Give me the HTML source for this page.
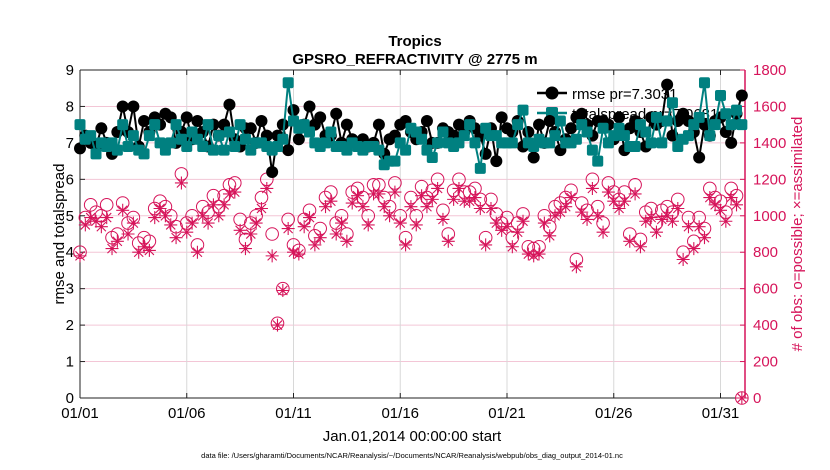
<!DOCTYPE html>
<html><head><meta charset="utf-8"><style>
body{margin:0;background:#fff}
svg{display:block;font-family:"Liberation Sans",sans-serif}
</style></head><body>
<svg id="c" width="830" height="470">
<g id="grid"></g>
<g id="marks"></g>
<g id="axes"></g>
<text x="415" y="46" text-anchor="middle" font-size="15" font-weight="bold">Tropics</text>
<text x="415" y="64" text-anchor="middle" font-size="15" font-weight="bold">GPSRO_REFRACTIVITY @ 2775 m</text>
<text x="412" y="441" text-anchor="middle" font-size="15">Jan.01,2014 00:00:00 start</text>
<text transform="translate(64,234) rotate(-90)" text-anchor="middle" font-size="15">rmse and totalspread</text>
<text transform="translate(802,234) rotate(-90)" text-anchor="middle" font-size="15" fill="#d6145a"># of obs: o=possible; ×=assimilated</text>
<text x="412" y="458" text-anchor="middle" font-size="7.5">data file: /Users/gharamti/Documents/NCAR/Reanalysis/~/Documents/NCAR/Reanalysis/webpub/obs_diag_output_2014-01.nc</text>
<g id="legend"></g>
</svg>
<script>
const xTicks=["01/01","01/06","01/11","01/16","01/21","01/26","01/31"];
const yTicks=[0,1,2,3,4,5,6,7,8,9];
const y2Ticks=[0,200,400,600,800,1000,1200,1400,1600,1800];
const rmse=[6.85,7.2,7.0,6.9, 7.4,7.0,6.7,7.3, 8.0,7.3,8.0,6.9, 7.6,7.3,7.7,7.5, 7.8,7.7,7.0,7.3, 7.7,7.1,7.6,7.3, 6.9,7.5,7.2,7.5, 8.05,7.1,6.9,7.4, 7.4,7.0,7.6,7.2, 6.2,7.2,7.5,6.8, 7.9,7.1,7.5,8.0, 7.5,7.7,7.2,7.2, 7.8,7.0,7.5,7.1, 7.0,7.1,6.9,7.0, 7.5,6.7,7.1,7.2, 7.5,7.6,7.3,7.1, 7.3,7.6,7.0,7.0, 7.4,7.3,7.2,7.5, 7.3,7.6,7.4,7.2, 6.7,7.4,6.5,7.7, 7.4,7.3,7.6,6.9, 7.3,6.6,7.5,7.0, 7.6,7.3,6.8,7.1, 7.4,7.7,7.8,7.5, 7.2,7.6,7.6,7.5, 7.1,7.7,6.8,7.4, 7.6,7.3,6.9,7.7, 7.5,7.6,8.6,7.2, 7.6,7.8,7.6,7.3, 6.6,7.5,7.2,7.6, 7.7,7.3,7.0,7.8, 8.3];
const totalspread=[7.5,7.1,7.2,6.7, 7.0,6.9,7.0,6.8, 7.5,6.9,7.2,6.8, 6.7,7.2,7.5,7.0, 6.8,7.0,7.5,7.1, 6.9,7.3,7.1,6.9, 7.5,6.8,7.2,6.8, 7.3,6.9,7.5,7.1, 6.8,7.0,7.0,6.9, 6.8,6.9,7.1,8.65, 7.6,7.4,7.5,7.3, 7.0,6.9,7.0,7.3, 6.9,6.9,6.8,7.0, 6.9,6.8,6.9,6.9, 6.8,6.4,6.5,6.5, 7.0,6.8,7.4,7.3, 7.1,6.8,6.6,7.0, 7.3,7.0,6.9,7.0, 7.2,7.5,7.0,6.3, 7.4,7.2,7.2,7.0, 7.0,7.0,7.5,7.9, 7.0,6.9,7.1,7.0, 7.0,7.2,7.6,7.0, 7.0,7.1,7.5,7.3, 6.8,6.5,7.4,7.0, 7.2,7.4,7.2,6.9, 6.9,7.5,7.3,7.0, 7.7,7.0,7.6,8.1, 6.9,7.1,7.2,7.5, 7.7,8.65,7.2,7.5, 8.3,7.8,7.5,7.9, 7.5];
const possible=[800,990,1060,1020, 1000,1060,880,900, 1070,960,990,850, 880,860,1040,1080, 1050,1000,940,1230, 960,1000,840,1050, 1020,1110,1050,1110, 1170,1180,980,870, 960,1000,1100,1200, 900,410,600,980, 840,810,980,1030, 890,930,1100,1130, 960,1000,900,1130, 1150,1100,1000,1170, 1170,1100,1050,1180, 1000,880,1100,1000, 1160,1100,1140,1200, 1030,900,1140,1200, 1130,1130,1150,1090, 880,1090,1010,960, 990,880,960,1010, 830,820,830,1000, 940,1050,1070,1100, 1140,760,1070,1030, 1200,1050,960,1180, 1130,1090,1130,900, 1170,870,1020,1040, 960,1030,1050,1020, 1090,800,990,860, 990,930,1150,1100, 1080,1020,1150,1110, 0];
const assimilated=[780,950,990,970, 940,990,820,860, 1030,900,960,800, 830,810,990,1040, 1000,950,880,1180, 910,960,800,1000, 960,1060,1000,1060, 1120,1130,920,820, 900,960,1040,1150, 780,400,590,930, 800,790,940,990, 840,880,1050,1080, 900,960,860,1070, 1110,1050,950,1120, 1120,1050,1000,1130, 960,840,1050,950, 1110,1050,1090,1150, 980,860,1090,1150, 1080,1080,1100,1040, 840,1040,960,920, 940,830,910,970, 790,780,790,960, 890,1000,1020,1050, 1100,720,1020,980, 1150,1000,910,1130, 1080,1040,1080,860, 1120,830,970,990, 910,980,1000,970, 1040,760,940,820, 940,880,1100,1060, 1030,970,1100,1060, 0];

const NS='http://www.w3.org/2000/svg';
const L=80,R=745,T=70,B=398,DX=21.35,RED='#d6145a',TEAL='#008080';
const xs=i=>L+i*DX/4;
const xd=d=>L+d*DX;
const y1=v=>B-v*(B-T)/9;
const y2=v=>B-v*(B-T)/1800;
function mk(tag,at,parent){const e=document.createElementNS(NS,tag);for(const k in at)e.setAttribute(k,at[k]);parent.appendChild(e);return e;}
const grid=document.getElementById('grid'),marks=document.getElementById('marks'),axes=document.getElementById('axes'),legend=document.getElementById('legend');
mk('rect',{x:L,y:T,width:R-L,height:B-T,fill:'#fff'},grid);
y2Ticks.forEach(v=>{const g=mk('line',{x1:L,x2:R,y1:y2(v),y2:y2(v),stroke:'#f3c6d6','stroke-width':1},grid);

});
xTicks.forEach((t,k)=>{const g=mk('line',{x1:xd(k*5),x2:xd(k*5),y1:T,y2:B,stroke:'#d8d8d8','stroke-width':1},grid);

});
function line(arr,yf,col,name){const p=mk('polyline',{points:arr.map((v,i)=>xs(i)+','+yf(v)).join(' '),fill:'none',stroke:col,'stroke-width':2},marks);

}
possible.forEach((v,i)=>{const c=mk('circle',{cx:xs(i),cy:y2(v),r:6.3,fill:'none',stroke:RED,'stroke-width':1},marks);

});
assimilated.forEach((v,i)=>{const x=xs(i),y=y2(v),s=6.5;
const d=`M${x-s},${y}H${x+s}M${x},${y-s}V${y+s}M${x-s*.7},${y-s*.7}L${x+s*.7},${y+s*.7}M${x-s*.7},${y+s*.7}L${x+s*.7},${y-s*.7}`;
const p=mk('path',{d:d,stroke:RED,'stroke-width':1.1,fill:'none'},marks);

});
line(rmse,y1,'#000','rmse-line');
rmse.forEach((v,i)=>{const c=mk('circle',{cx:xs(i),cy:y1(v),r:6,fill:'#000'},marks);

});
line(totalspread,y1,TEAL,'totalspread-line');
totalspread.forEach((v,i)=>{const c=mk('rect',{x:xs(i)-5.5,y:y1(v)-5.5,width:11,height:11,rx:2,fill:TEAL},marks);

});
mk('line',{x1:L,x2:R,y1:T,y2:T,stroke:'#222'},axes);
mk('line',{x1:L,x2:R,y1:B,y2:B,stroke:'#222'},axes);
mk('line',{x1:L,x2:L,y1:T,y2:B,stroke:'#222'},axes);
mk('line',{x1:R,x2:R,y1:T,y2:B,stroke:RED,'stroke-width':1.5},axes);
yTicks.forEach(v=>{mk('line',{x1:L,x2:L+5,y1:y1(v),y2:y1(v),stroke:'#222'},axes);
const t=mk('text',{x:L-6,y:y1(v)+5,'text-anchor':'end','font-size':15},axes);t.textContent=v;

});
y2Ticks.forEach(v=>{mk('line',{x1:R-5,x2:R,y1:y2(v),y2:y2(v),stroke:RED},axes);
const t=mk('text',{x:R+8,y:y2(v)+5,'font-size':15,fill:RED},axes);t.textContent=v;

});
xTicks.forEach((s,k)=>{const x=xd(k*5);mk('line',{x1:x,x2:x,y1:B,y2:B-5,stroke:'#222'},axes);mk('line',{x1:x,x2:x,y1:T,y2:T+5,stroke:'#222'},axes);
const t=mk('text',{x:x,y:B+20,'text-anchor':'middle','font-size':15},axes);t.textContent=s;

});
mk('line',{x1:537,x2:567,y1:93,y2:93,stroke:'#000','stroke-width':2.5},legend);
mk('circle',{cx:552,cy:93,r:6.5,fill:'#000'},legend);
const l1=mk('text',{x:572,y:99,'font-size':15},legend);l1.textContent='rmse pr=7.3031';


mk('line',{x1:537,x2:567,y1:113,y2:113,stroke:TEAL,'stroke-width':2.5},legend);
mk('rect',{x:546,y:107,width:12,height:12,rx:2,fill:TEAL},legend);
const l2=mk('text',{x:572,y:119,'font-size':15},legend);l2.textContent='totalspread pr=7.0681';


document.getElementById('c').appendChild(marks);
</script>
</body></html>
